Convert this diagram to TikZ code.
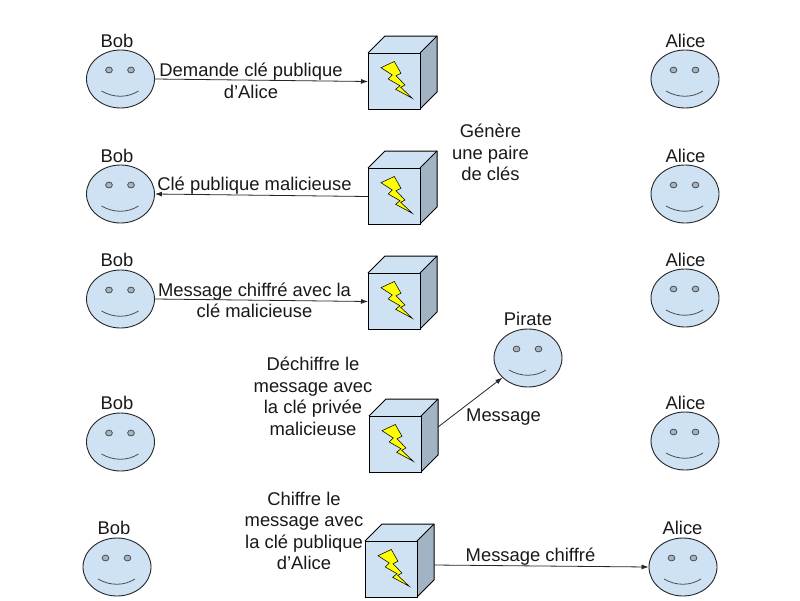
\documentclass[tikz,border=0pt]{standalone}
\usepackage{fontspec}
\setmainfont{Liberation Sans}
\usetikzlibrary{shapes.geometric,arrows.meta}
\definecolor{fillblue}{HTML}{CFE2F3}
\definecolor{sideblue}{HTML}{A2B4C4}
\definecolor{eyegrey}{HTML}{A5B4C3}
\definecolor{boltyellow}{HTML}{FFFF00}
\tikzset{
  x=1pt,y=-1pt,
  facebody/.style={ellipse,draw=black!85,fill=fillblue,line width=0.9pt,minimum width=68pt,minimum height=58pt,inner sep=0pt},
  facepart/.style={draw=black!70,line width=0.8pt},
  eye/.style={facepart,fill=eyegrey},
  cubefront/.style={rectangle,draw=black,fill=fillblue,line width=1pt,minimum width=52pt,minimum height=56pt,inner sep=0pt,anchor=north west},
  cubeedge/.style={draw=black,line width=1pt,line join=round},
  bolt/.style={draw=black,fill=boltyellow,line width=0.55pt,line join=miter},
  conn/.style={draw=black!85,line width=0.8pt,-{Latex[length=7pt,width=5pt]}},
  lbl/.style={font=\fontsize{18.4pt}{21.5pt}\selectfont,align=center,inner sep=0pt,text=black!90},
}
% #1 name, #2 x, #3 y
\newcommand{\facefig}[3]{%
  \node[facebody] (#1) at (#2,#3) {};
  \draw[eye] (#2-11.5,#3-9) ellipse (3.4 and 2.9);
  \draw[eye] (#2+10.5,#3-9) ellipse (3.4 and 2.9);
  \draw[facepart] (#2-19,#3+12) .. controls (#2-7,#3+19) and (#2+7,#3+19) .. (#2+18,#3+12);
}
% #1 name, #2 x, #3 y of front top-left
\newcommand{\cubefig}[3]{%
  \fill[sideblue] (#2+52,#3) -- (#2+69,#3-17) -- (#2+69,#3+39) -- (#2+52,#3+56) -- cycle;
  \fill[fillblue] (#2,#3) -- (#2+17,#3-17) -- (#2+69,#3-17) -- (#2+52,#3) -- cycle;
  \draw[cubeedge] (#2,#3) -- (#2+17,#3-17) -- (#2+69,#3-17) -- (#2+69,#3+39) -- (#2+52,#3+56);
  \draw[cubeedge] (#2+52,#3) -- (#2+69,#3-17);
  \node[cubefront] (#1) at (#2,#3) {};
  \draw[bolt] (#2+13,#3+14.7) -- (#2+26.3,#3+8.5) -- (#2+33,#3+20.3) -- (#2+28,#3+22.7)
    -- (#2+37,#3+32) -- (#2+32.7,#3+34.3) -- (#2+44.3,#3+45.3) -- (#2+27.7,#3+36.3)
    -- (#2+32,#3+32.7) -- (#2+20.3,#3+26) -- (#2+24.3,#3+22) -- cycle;
}
\begin{document}
\begin{tikzpicture}
\useasboundingbox (0,0) rectangle (800,600);
\fill[white] (0,0) rectangle (800,600);

\facefig{bobA}{120.5}{79}
\facefig{bobB}{120.5}{194}
\facefig{bobC}{120.5}{299}
\facefig{bobD}{120.5}{442}
\facefig{bobE}{117}{567}
\facefig{aliceA}{685}{79}
\facefig{aliceB}{685}{194}
\facefig{aliceC}{685}{298}
\facefig{aliceD}{685}{441}
\facefig{aliceE}{683}{567}
\facefig{pirate}{528}{358}

\cubefig{srvA}{368}{53}
\cubefig{srvB}{368}{168}
\cubefig{srvC}{368}{273}
\cubefig{srvD}{369}{416}
\cubefig{srvE}{365}{541}

\coordinate (srvDr) at (438,427);
\coordinate (srvEr) at (434,565);

\draw[conn] (bobA.east) -- (srvA.west);
\draw[conn] (srvB.west) -- (bobB.east);
\draw[conn] (bobC.east) -- (srvC.west);
\draw[conn] (srvDr) -- (pirate);
\draw[conn] (srvEr) -- (aliceE.west);

\node[lbl] (tBobA) at (117,41) {Bob};
\node[lbl] (tBobB) at (117,156) {Bob};
\node[lbl] (tBobC) at (117,260) {Bob};
\node[lbl] (tBobD) at (117,403) {Bob};
\node[lbl] (tBobE) at (114,528) {Bob};
\node[lbl] (tAliceA) at (685.5,41) {Alice};
\node[lbl] (tAliceB) at (685.5,156) {Alice};
\node[lbl] (tAliceC) at (685.5,260) {Alice};
\node[lbl] (tAliceD) at (685.5,403) {Alice};
\node[lbl] (tAliceE) at (682.5,528) {Alice};
\node[lbl] (tPirate) at (528,319) {Pirate};

\node[lbl] (tDemande) at (251,81) {Demande clé publique\\d’Alice};
\node[lbl] (tGenere) at (490.5,152.5) {Génère\\une paire\\de clés};
\node[lbl] (tCle) at (254.5,186) {Clé publique malicieuse};
\node[lbl] (tMsgCh) at (254.5,300.5) {Message chiffré avec la\\clé malicieuse};
\node[lbl] (tDech) at (313,396.5) {Déchiffre le\\message avec\\la clé privée\\malicieuse};
\node[lbl] (tMsg) at (503.5,417) {Message};
\node[lbl] (tChif) at (304,531) {Chiffre le\\message avec\\la clé publique\\d’Alice};
\node[lbl] (tMsgE) at (530.5,557) {Message chiffré};
\end{tikzpicture}
\end{document}
